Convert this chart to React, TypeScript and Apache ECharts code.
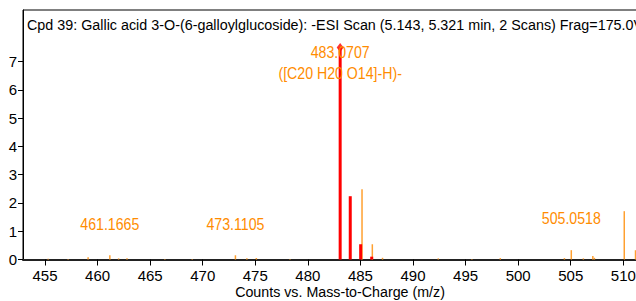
import React, { useEffect, useRef } from "react";
import * as echarts from "echarts";

const FONT = "'Liberation Sans', Arial, sans-serif";

const titleText =
  "Cpd 39: Gallic acid 3-O-(6-galloylglucoside): -ESI Scan (5.143, 5.321 min, 2 Scans) Frag=175.0V";
const xAxisTitle = "Counts vs. Mass-to-Charge (m/z)";

const xTicks = [455, 460, 465, 470, 475, 480, 485, 490, 495, 500, 505, 510];
const yTicks = [0, 1, 2, 3, 4, 5, 6, 7];

// matched isotope peaks (red)
const redMz = [483.0707, 484.03, 485.02, 486.07];
const redInt = [7.5, 2.24, 0.54, 0.1];

// other spectrum peaks (orange)
const orangeMz = [
  455.3, 457.2, 459.1, 461.1665, 462.0, 462.8, 466.4, 469.0, 473.1105, 474.2, 475.1,
  478.3, 485.15, 486.13, 487.1, 492.4, 495.6, 498.3, 504.4, 505.0518, 506.2, 507.1,
  507.25, 510.09, 511.16,
];
const orangeInt = [
  0.03, 0.02, 0.08, 0.15, 0.04, 0.04, 0.02, 0.02, 0.15, 0.04, 0.05,
  0.02, 2.49, 0.54, 0.06, 0.04, 0.02, 0.05, 0.05, 0.33, 0.04, 0.12,
  0.06, 1.71, 0.33,
];

// annotated peaks
const annotMz = [483.0707, 461.1665, 473.1105, 505.0518];
const annotText = ["483.0707\n([C20 H20 O14]-H)-", "461.1665", "473.1105", "505.0518"];

const intensityAt = (mz: number) => {
  const ri = redMz.indexOf(mz);
  if (ri >= 0) return redInt[ri];
  const oi = orangeMz.indexOf(mz);
  return oi >= 0 ? orangeInt[oi] : 0;
};

export default function App() {
  const ref = useRef<HTMLDivElement>(null);

  useEffect(() => {
    if (!ref.current) return;
    const chart = echarts.init(ref.current, undefined, { renderer: "svg" });

    const barItem = (color: string, w: number) => (params: any, api: any) => {
      const x = api.value(0);
      const y = api.value(1);
      const top = api.coord([x, y]);
      const base = api.coord([x, 0]);
      return {
        type: "rect",
        shape: { x: top[0] - w / 2, y: top[1], width: w, height: base[1] - top[1] },
        style: { fill: color },
      };
    };

    const labelItem = (params: any, api: any) => {
      const i = params.dataIndex;
      const p = api.coord([api.value(0), api.value(1)]);
      const dy = i === 0 ? 15 : i === 3 ? -32 : -31;
      return {
        type: "text",
        x: p[0],
        y: p[1] + dy,
        scaleX: 0.885,
        style: {
          text: annotText[i],
          font: `16px ${FONT}`,
          fill: "#FF8C00",
          align: "center",
          verticalAlign: "middle",
          lineHeight: 21,
        },
      };
    };

    chart.setOption({
      animation: false,
      grid: {
        left: 23,
        right: -10,
        top: 10,
        bottom: 41.5,
        show: true,
        borderColor: "#000",
        borderWidth: 1,
        containLabel: false,
        outerBoundsMode: "none",
      },
      graphic: [
        {
          type: "text",
          x: 27,
          y: 24,
          scaleX: 0.925,
          z: 10,
          style: {
            text: titleText,
            font: `15.5px ${FONT}`,
            fill: "#000",
            verticalAlign: "middle",
          },
        },
        {
          type: "text",
          x: 340,
          y: 292,
          scaleX: 0.92,
          z: 10,
          style: {
            text: xAxisTitle,
            font: `15.5px ${FONT}`,
            fill: "#000",
            align: "center",
            verticalAlign: "middle",
          },
        },
      ],
      xAxis: {
        type: "value",
        min: 452.908,
        max: 512.157,
        axisLine: { show: true, onZero: false, lineStyle: { color: "#222", width: 2 } },
        axisTick: { show: true, customValues: xTicks, length: 6, lineStyle: { color: "#000" } },
        axisLabel: {
          customValues: xTicks,
          margin: 8,
          fontFamily: FONT,
          fontSize: 15,
          color: "#000",
        },
        splitLine: { show: false },
      },
      yAxis: {
        type: "value",
        min: 0,
        max: 8.83,
        axisLine: { show: true, lineStyle: { color: "#000", width: 1 } },
        axisTick: { show: true, customValues: yTicks, length: 5, lineStyle: { color: "#000" } },
        axisLabel: {
          customValues: yTicks,
          margin: 6,
          fontFamily: FONT,
          fontSize: 15,
          color: "#000",
        },
        splitLine: { show: false },
      },
      series: [
        {
          type: "custom",
          renderItem: barItem("#FFA030", 1.5),
          data: orangeMz.map((m, i) => [m, orangeInt[i]]),
          z: 3,
        },
        {
          type: "custom",
          renderItem: barItem("#FF0000", 3),
          data: redMz.map((m, i) => [m, redInt[i]]),
          z: 4,
        },
        {
          type: "scatter",
          symbol: "diamond",
          symbolSize: [7, 9],
          itemStyle: { color: "#FF0000" },
          data: [[redMz[0], redInt[0]]],
          z: 5,
        },
        {
          type: "custom",
          renderItem: labelItem,
          data: annotMz.map((m) => [m, intensityAt(m)]),
          z: 6,
        },
      ],
    });

    return () => chart.dispose();
  }, []);

  return (
    <div style={{ width: 636, height: 301, position: "absolute", left: 0, top: 0, overflow: "hidden" }}>
      <div ref={ref} style={{ width: 636, height: 301 }} />
    </div>
  );
}
